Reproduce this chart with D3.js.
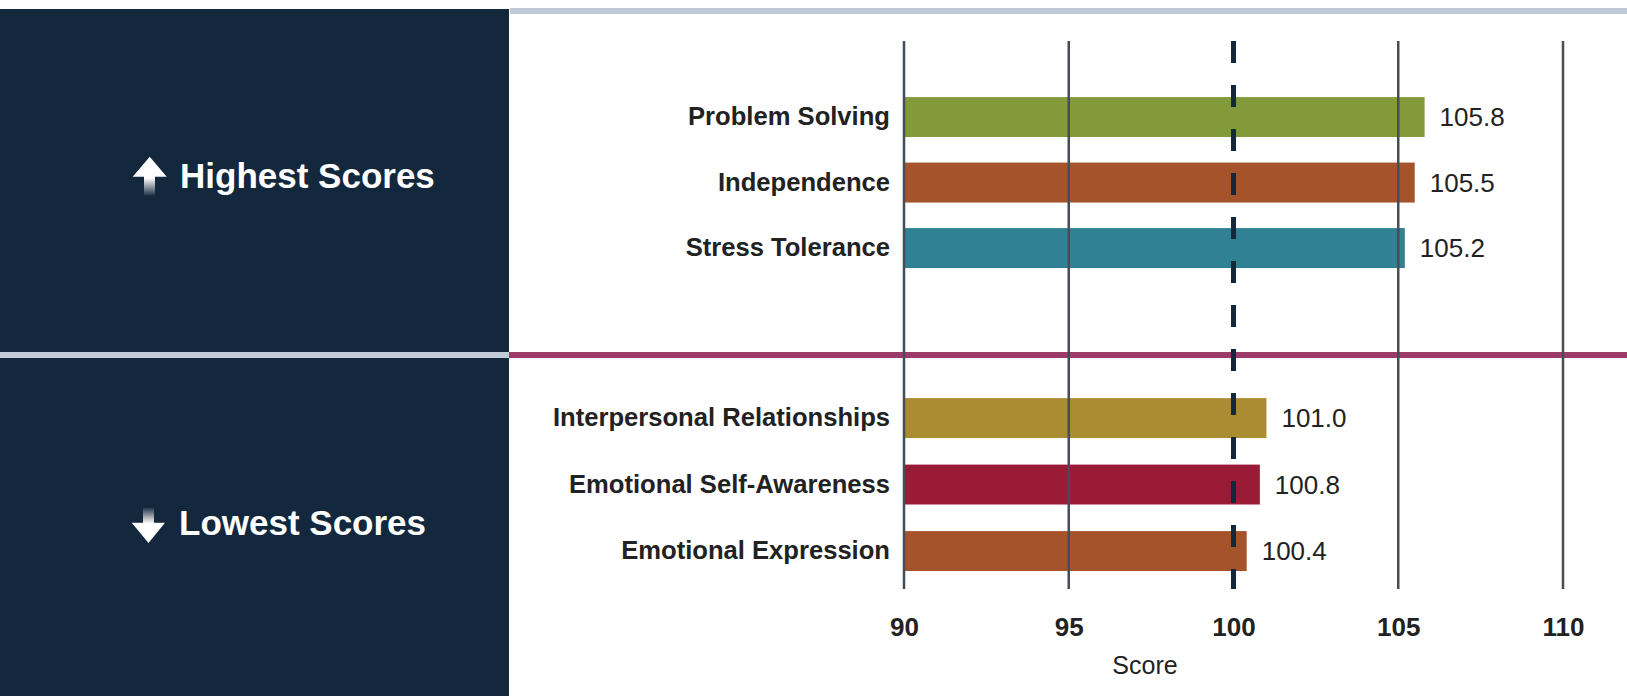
<!DOCTYPE html>
<html>
<head>
<meta charset="utf-8">
<script src="https://cdn.jsdelivr.net/npm/d3@7"></script>
<style>
  html, body { margin: 0; padding: 0; background: #fff; }
  svg { display: block; font-family: "Liberation Sans", Arial, sans-serif; }
</style>
</head>
<body>
<div id="chart"></div>
<script>
// Data
const topCategories = ['Problem Solving', 'Independence', 'Stress Tolerance'];
const topScores = [105.8, 105.5, 105.2];
const topColors = ['#839a3a', '#a5532a', '#318194'];

const bottomCategories = ['Interpersonal Relationships', 'Emotional Self-Awareness', 'Emotional Expression'];
const bottomScores = [101.0, 100.8, 100.4];
const bottomColors = ['#ab8c32', '#991b36', '#a5532a'];

const xTicks = [90, 95, 100, 105, 110];
const referenceScore = 100;
const sectionTitles = ['Highest Scores', 'Lowest Scores'];

const width = 1627;
const height = 696;
const panelW = 509;
const navy = '#13283d';

const svg = d3.select('#chart').append('svg')
  .attr('width', width)
  .attr('height', height);

const defs = svg.append('defs');
const gradUp = defs.append('linearGradient').attr('id', 'fadeDown')
  .attr('x1', 0).attr('x2', 0).attr('y1', 0).attr('y2', 1);
gradUp.append('stop').attr('offset', '0.55').attr('stop-color', '#fff').attr('stop-opacity', 1);
gradUp.append('stop').attr('offset', '1').attr('stop-color', '#fff').attr('stop-opacity', 0.05);
const gradDown = defs.append('linearGradient').attr('id', 'fadeUp')
  .attr('x1', 0).attr('x2', 0).attr('y1', 1).attr('y2', 0);
gradDown.append('stop').attr('offset', '0.55').attr('stop-color', '#fff').attr('stop-opacity', 1);
gradDown.append('stop').attr('offset', '1').attr('stop-color', '#fff').attr('stop-opacity', 0.05);

// Left panel + rules
svg.append('rect').attr('x', 0).attr('y', 9).attr('width', panelW).attr('height', height - 9).attr('fill', navy);
svg.append('rect').attr('x', panelW + 1).attr('y', 8).attr('width', width - panelW).attr('height', 6).attr('fill', '#c0cad6');
svg.append('rect').attr('x', 0).attr('y', 352).attr('width', panelW).attr('height', 6).attr('fill', '#c4ccd8');
svg.append('rect').attr('x', panelW).attr('y', 352).attr('width', width - panelW).attr('height', 6).attr('fill', '#9c3a69');

// Section titles with arrows
const upArrow = 'M149.7,156.7 L166.7,176.7 L155,176.7 L155,195.5 L144,195.5 L144,176.7 L132.7,176.7 Z';
const downArrow = 'M143,507.5 L154,507.5 L154,522.7 L165,522.7 L148.5,543 L131.7,522.7 L143,522.7 Z';
svg.append('path').attr('d', upArrow).attr('fill', 'url(#fadeDown)');
svg.append('path').attr('d', downArrow).attr('fill', 'url(#fadeUp)');

svg.append('text').attr('x', 180).attr('y', 188)
  .attr('fill', '#fff').attr('font-size', 35).attr('font-weight', 'bold')
  .text(sectionTitles[0]);
svg.append('text').attr('x', 179).attr('y', 535)
  .attr('fill', '#fff').attr('font-size', 35).attr('font-weight', 'bold')
  .text(sectionTitles[1]);

// Scales
const x = d3.scaleLinear().domain([90, 110]).range([904, 1563]);
const yTop = d3.scaleBand().domain(topCategories).range([84.3, 280.8]).paddingInner(0.39).paddingOuter(0.195);
const yBot = d3.scaleBand().domain(bottomCategories).range([384.8, 584.3]).paddingInner(0.4).paddingOuter(0.2);
const gridTop = 41;
const gridBottom = 589;

function drawGroup(cats, scores, colors, y) {
  const rows = cats.map((c, i) => ({ cat: c, score: scores[i], color: colors[i] }));
  const g = svg.append('g');
  g.selectAll('rect').data(rows).join('rect')
    .attr('x', x(90))
    .attr('y', (d) => y(d.cat))
    .attr('width', (d) => x(d.score) - x(90))
    .attr('height', y.bandwidth())
    .attr('fill', (d) => d.color);

  g.selectAll('text.cat').data(rows).join('text')
    .attr('class', 'cat')
    .attr('x', 890)
    .attr('y', (d) => y(d.cat) + y.bandwidth() / 2)
    .attr('dy', '0.33em')
    .attr('text-anchor', 'end')
    .attr('font-size', 25.6)
    .attr('font-weight', 'bold')
    .attr('fill', '#222')
    .text((d) => d.cat);

  g.selectAll('text.val').data(rows).join('text')
    .attr('class', 'val')
    .attr('x', (d) => x(d.score) + 15)
    .attr('y', (d) => y(d.cat) + y.bandwidth() / 2)
    .attr('dy', '0.35em')
    .attr('font-size', 26)
    .attr('fill', '#222')
    .text((d) => d.score.toFixed(1));
}

drawGroup(topCategories, topScores, topColors, yTop);
drawGroup(bottomCategories, bottomScores, bottomColors, yBot);

// Gridlines (on top of bars)
svg.append('g').selectAll('line')
  .data(xTicks.filter((t) => t !== referenceScore))
  .join('line')
  .attr('x1', (d) => x(d)).attr('x2', (d) => x(d))
  .attr('y1', gridTop).attr('y2', gridBottom)
  .attr('stroke', '#474d58')
  .attr('stroke-width', 2.5);

// Reference line
svg.append('line')
  .attr('x1', x(referenceScore)).attr('x2', x(referenceScore))
  .attr('y1', gridTop).attr('y2', gridBottom)
  .attr('stroke', navy)
  .attr('stroke-width', 5)
  .attr('stroke-dasharray', '22 22');

// X axis
const axis = svg.append('g')
  .attr('transform', `translate(0,${gridBottom})`)
  .call(d3.axisBottom(x).tickValues(xTicks).tickSize(0).tickPadding(29));
axis.select('.domain').remove();
axis.selectAll('text')
  .attr('font-family', '"Liberation Sans", Arial, sans-serif')
  .attr('font-size', 26)
  .attr('font-weight', 'bold')
  .attr('fill', '#222');

svg.append('text')
  .attr('x', 1145).attr('y', 674)
  .attr('text-anchor', 'middle')
  .attr('font-size', 25)
  .attr('fill', '#222')
  .text('Score');
</script>
</body>
</html>
